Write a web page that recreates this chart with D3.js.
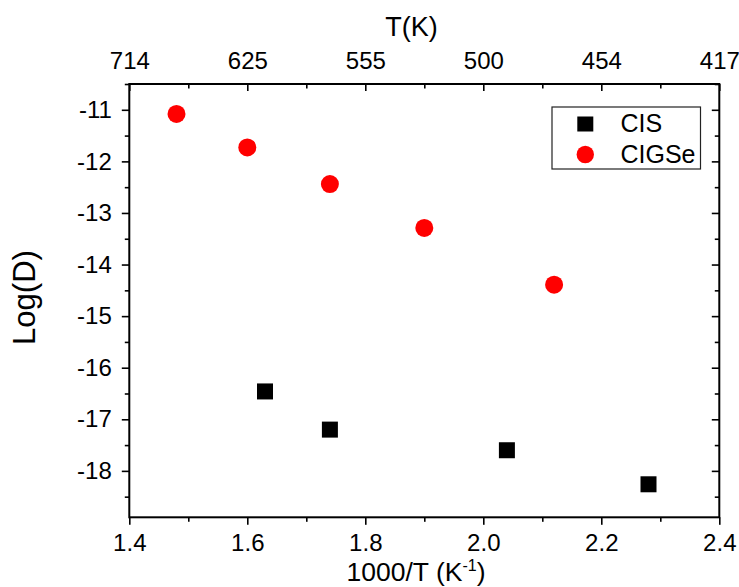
<!DOCTYPE html>
<html><head><meta charset="utf-8">
<script src="https://cdn.jsdelivr.net/npm/d3@7"></script>
<style>
html,body{margin:0;padding:0;background:#fff;}
svg{display:block;font-family:"Liberation Sans",Arial,sans-serif;}
</style></head>
<body>
<svg id="c" width="739" height="587"></svg>
<script>
// Data
const cisX = [1.63, 1.74, 2.04, 2.28];
const cisY = [-16.46, -17.2, -17.6, -18.26];
const cigseX = [1.48, 1.60, 1.74, 1.90, 2.12];
const cigseY = [-11.08, -11.73, -12.44, -13.29, -14.39];
const xTicks = [1.4, 1.6, 1.8, 2.0, 2.2, 2.4];
const yTicks = [-11, -12, -13, -14, -15, -16, -17, -18];
const topLabels = ["714", "625", "555", "500", "454", "417"];
const seriesNames = ["CIS", "CIGSe"];

const svg = d3.select("#c");
const L = 129.3, R = 719.3, T = 84, B = 517.3;
const x = d3.scaleLinear().domain([1.4, 2.4]).range([L, R]);
const y = d3.scaleLinear().domain([-18.9, -10.5]).range([B, T]);

const xMinor = d3.range(14, 25).map(d => d / 10).filter(d => !xTicks.some(t => Math.abs(t - d) < 1e-6));
const yMinor = d3.range(-18.5, -10.4, 1);

const fontTick = 24;
const FF = '"Liberation Sans",Arial,sans-serif';

// Bottom axis
svg.append("g").attr("transform", `translate(0,${B})`)
  .call(d3.axisBottom(x).tickValues(xTicks).tickFormat(d3.format(".1f")).tickSize(7.5).tickPadding(9));
svg.append("g").attr("transform", `translate(0,${B})`)
  .call(d3.axisBottom(x).tickValues(xMinor).tickFormat("").tickSize(4.5));
// Top axis (ticks inward)
svg.append("g").attr("transform", `translate(0,${T})`)
  .call(d3.axisTop(x).tickValues(xTicks).tickFormat((d, i) => topLabels[i]).tickSize(-7).tickPadding(14.7));
svg.append("g").attr("transform", `translate(0,${T})`)
  .call(d3.axisTop(x).tickValues(xMinor).tickFormat("").tickSize(-4.5));
// Left axis
svg.append("g").attr("transform", `translate(${L},0)`)
  .call(d3.axisLeft(y).tickValues(yTicks).tickFormat(d => String(d)).tickSize(7.5).tickPadding(10));
svg.append("g").attr("transform", `translate(${L},0)`)
  .call(d3.axisLeft(y).tickValues(yMinor).tickFormat("").tickSize(4.5));
// Right axis (ticks inward)
svg.append("g").attr("transform", `translate(${R},0)`)
  .call(d3.axisRight(y).tickValues(yTicks).tickFormat("").tickSize(-7.5));
svg.append("g").attr("transform", `translate(${R},0)`)
  .call(d3.axisRight(y).tickValues(yMinor).tickFormat("").tickSize(-4.5));

svg.selectAll(".domain").remove();
svg.selectAll(".tick line").attr("stroke", "#000").attr("stroke-width", 1.6);
svg.selectAll(".tick text").attr("font-size", fontTick).attr("fill", "#000").attr("font-family", FF);

// Frame
svg.append("rect").attr("x", L).attr("y", T).attr("width", R - L).attr("height", B - T)
  .attr("fill", "none").attr("stroke", "#000").attr("stroke-width", 2);

// Titles
svg.append("text").attr("x", 411.5).attr("y", 35.7).attr("text-anchor", "middle")
  .attr("font-size", 27).text("T(K)");
const xt = svg.append("text").attr("x", 416).attr("y", 580.5).attr("text-anchor", "middle")
  .attr("font-size", 26.5);
xt.append("tspan").text("1000/T (K");
xt.append("tspan").attr("dy", -10).attr("font-size", 16).text("-1");
xt.append("tspan").attr("dy", 10).text(")");
svg.append("text").attr("transform", `translate(35,297.5) rotate(-90)`)
  .attr("text-anchor", "middle").attr("font-size", 31).text("Log(D)");

// Data
const sq = 16;
svg.append("g").selectAll("rect").data(cisX.map((d, i) => [d, cisY[i]])).join("rect")
  .attr("x", d => x(d[0]) - sq / 2).attr("y", d => y(d[1]) - sq / 2)
  .attr("width", sq).attr("height", sq).attr("fill", "#000");
svg.append("g").selectAll("circle").data(cigseX.map((d, i) => [d, cigseY[i]])).join("circle")
  .attr("cx", d => x(d[0])).attr("cy", d => y(d[1])).attr("r", 9).attr("fill", "#ff0000");

// Legend
const lg = svg.append("g");
lg.append("rect").attr("x", 552).attr("y", 107).attr("width", 148.5).attr("height", 62)
  .attr("fill", "#fff").attr("stroke", "#222").attr("stroke-width", 1.2);
lg.append("rect").attr("x", 577.3).attr("y", 116.5).attr("width", 16).attr("height", 15).attr("fill", "#000");
lg.append("circle").attr("cx", 585.3).attr("cy", 154.5).attr("r", 8.7).attr("fill", "#ff0000");
lg.append("text").attr("x", 620.5).attr("y", 131.7).attr("font-size", 25).text(seriesNames[0]);
lg.append("text").attr("x", 620.5).attr("y", 162.7).attr("font-size", 25).text(seriesNames[1]);
</script>
</body></html>
